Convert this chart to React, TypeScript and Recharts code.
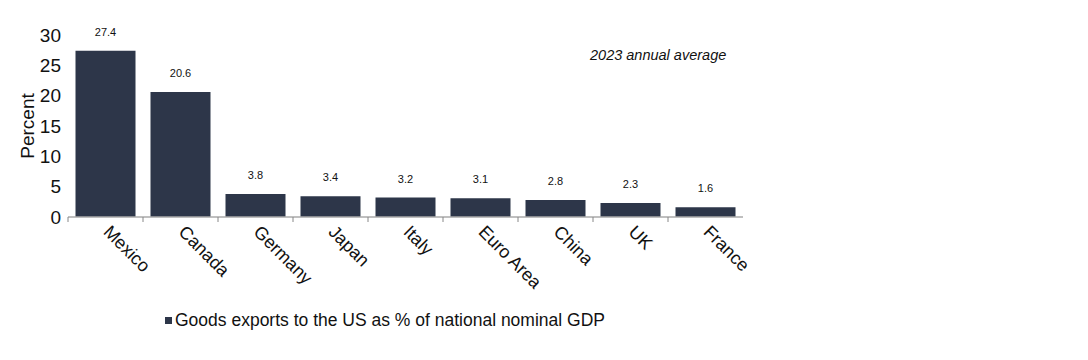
import { BarChart, Bar, XAxis, YAxis, LabelList } from "recharts";

const countries = ["Mexico", "Canada", "Germany", "Japan", "Italy", "Euro Area", "China", "UK", "France"];
const exportsShare = [27.4, 20.6, 3.8, 3.4, 3.2, 3.1, 2.8, 2.3, 1.6];
const yTicks = [0, 5, 10, 15, 20, 25, 30];

const SERIES_NAME = "Goods exports to the US as % of national nominal GDP";
const BAR_COLOR = "#2d3649";
const FONT = "'Liberation Sans', Arial, sans-serif";

const data = countries.map((name, i) => ({ name, value: exportsShare[i] }));

function CountryTick(props: any) {
  const { x, y, payload } = props;
  const half = payload?.offset ?? 37.5;
  return (
    <g>
      <line x1={x - half} y1={y} x2={x - half} y2={y + 5} stroke="#888" strokeWidth={1} />
      <text
        x={x - 3}
        y={y + 16}
        transform={`rotate(45, ${x - 3}, ${y + 16})`}
        textAnchor="start"
        fontSize={18}
        fontFamily={FONT}
        fill="#111"
      >
        {payload.value}
      </text>
    </g>
  );
}

export default function App() {
  return (
    <div style={{ position: "absolute", left: 0, top: 0, width: 1088, height: 360, background: "#fff" }}>
      <BarChart
        width={1088}
        height={360}
        data={data}
        margin={{ top: 35, right: 345, bottom: 113, left: 0 }}
        barCategoryGap="10%"
      >
        <XAxis
          dataKey="name"
          interval={0}
          height={30}
          tickSize={0}
          tickMargin={0}
          axisLine={{ stroke: "#aaa", strokeWidth: 1.5 }}
          tick={<CountryTick />}
        />
        <YAxis
          width={68}
          domain={[0, 30]}
          ticks={yTicks}
          interval={0}
          axisLine={false}
          tickLine={false}
          tickSize={6}
          tickMargin={1}
          tick={{ fontSize: 19, fontFamily: FONT, fill: "#111" }}
          label={{
            value: "Percent",
            angle: -90,
            position: "insideLeft",
            offset: 27,
            style: { fontSize: 19, fontFamily: FONT, fill: "#111", textAnchor: "middle" },
          }}
        />
        <Bar dataKey="value" name={SERIES_NAME} fill={BAR_COLOR} isAnimationActive={false}>
          <LabelList
            dataKey="value"
            position="top"
            offset={15}
            style={{ fontSize: 11, fontFamily: FONT, fill: "#111" }}
          />
        </Bar>
      </BarChart>
      <div
        style={{
          position: "absolute",
          left: 590,
          top: 47,
          fontFamily: FONT,
          fontStyle: "italic",
          fontSize: 14.5,
          color: "#111",
        }}
      >
        2023 annual average
      </div>
      <div
        style={{
          position: "absolute",
          left: 165,
          top: 310,
          display: "flex",
          alignItems: "center",
          fontFamily: FONT,
          fontSize: 17.5,
          color: "#111",
        }}
      >
        <span style={{ display: "inline-block", width: 7, height: 7, background: BAR_COLOR, marginRight: 3 }} />
        {SERIES_NAME}
      </div>
    </div>
  );
}
